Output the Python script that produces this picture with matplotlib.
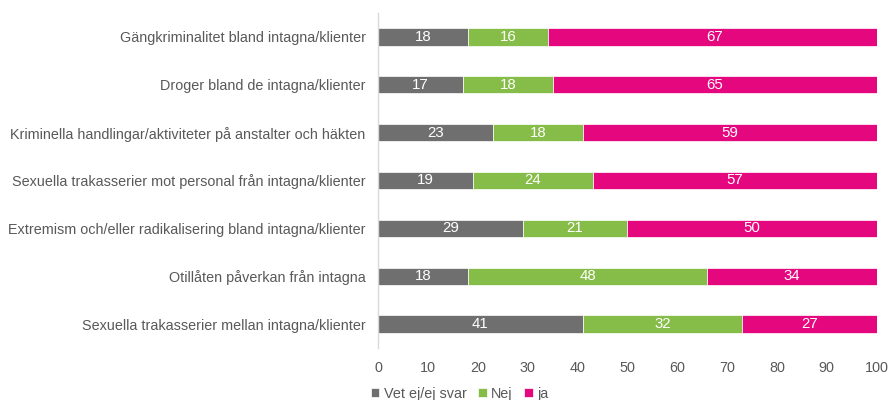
import matplotlib
matplotlib.use("Agg")
import matplotlib.pyplot as plt
import numpy as np

plt.rcParams['font.family'] = ['Liberation Sans', 'DejaVu Sans']

categories = [
    "Gängkriminalitet bland intagna/klienter",
    "Droger bland de intagna/klienter",
    "Kriminella handlingar/aktiviteter på anstalter och häkten",
    "Sexuella trakasserier mot personal från intagna/klienter",
    "Extremism och/eller radikalisering bland intagna/klienter",
    "Otillåten påverkan från intagna",
    "Sexuella trakasserier mellan intagna/klienter",
]
vet_ej = [18, 17, 23, 19, 29, 18, 41]
nej = [16, 18, 18, 24, 21, 48, 32]
ja = [67, 65, 59, 57, 50, 34, 27]
series_names = ["Vet ej/ej svar", "Nej", "ja"]
colors = ["#6f6f6f", "#86bc48", "#e5077e"]
xticks = [0, 10, 20, 30, 40, 50, 60, 70, 80, 90, 100]

FS = 10.4
fig = plt.figure(figsize=(8.9, 4), dpi=100)
ax = fig.add_axes([0.425, 0.13, 0.56, 0.8375])

y = np.arange(len(categories))
left = np.zeros(len(categories))
for vals, name, col in zip([vet_ej, nej, ja], series_names, colors):
    vals = np.array(vals)
    ax.barh(y, vals, left=left, height=0.36, color=col, label=name,
            edgecolor='white', linewidth=0.5)
    for yi, l, v in zip(y, left, vals):
        cx = l + v / 2
        if cx > 100:
            cx = (l + 100) / 2
        ax.text(cx, yi, str(v), ha='center', va='center', color='white', fontsize=FS + 0.4)
    left = left + vals

ax.set_xlim(0, 100)
ax.set_ylim(len(categories) - 0.5, -0.5)
ax.set_yticks(y)
ax.set_yticklabels(categories, fontsize=FS, color='#595959')
ax.set_xticks(xticks)
ax.set_xticklabels([str(t) for t in xticks], fontsize=FS, color='#595959')
for s in ['top', 'right', 'bottom']:
    ax.spines[s].set_visible(False)
ax.spines['left'].set_color('#d9d9d9')
ax.spines['left'].set_linewidth(1)
ax.tick_params(axis='both', length=0)
ax.tick_params(axis='y', pad=9)
ax.tick_params(axis='x', pad=9)

fig.legend(loc='lower left', bbox_to_anchor=(0.402, -0.035), ncol=3, frameon=False,
           fontsize=FS, handlelength=0.6, handleheight=0.6, handletextpad=0.3,
           columnspacing=0.8, labelcolor='#595959')

fig.savefig("out.png", dpi=100)
